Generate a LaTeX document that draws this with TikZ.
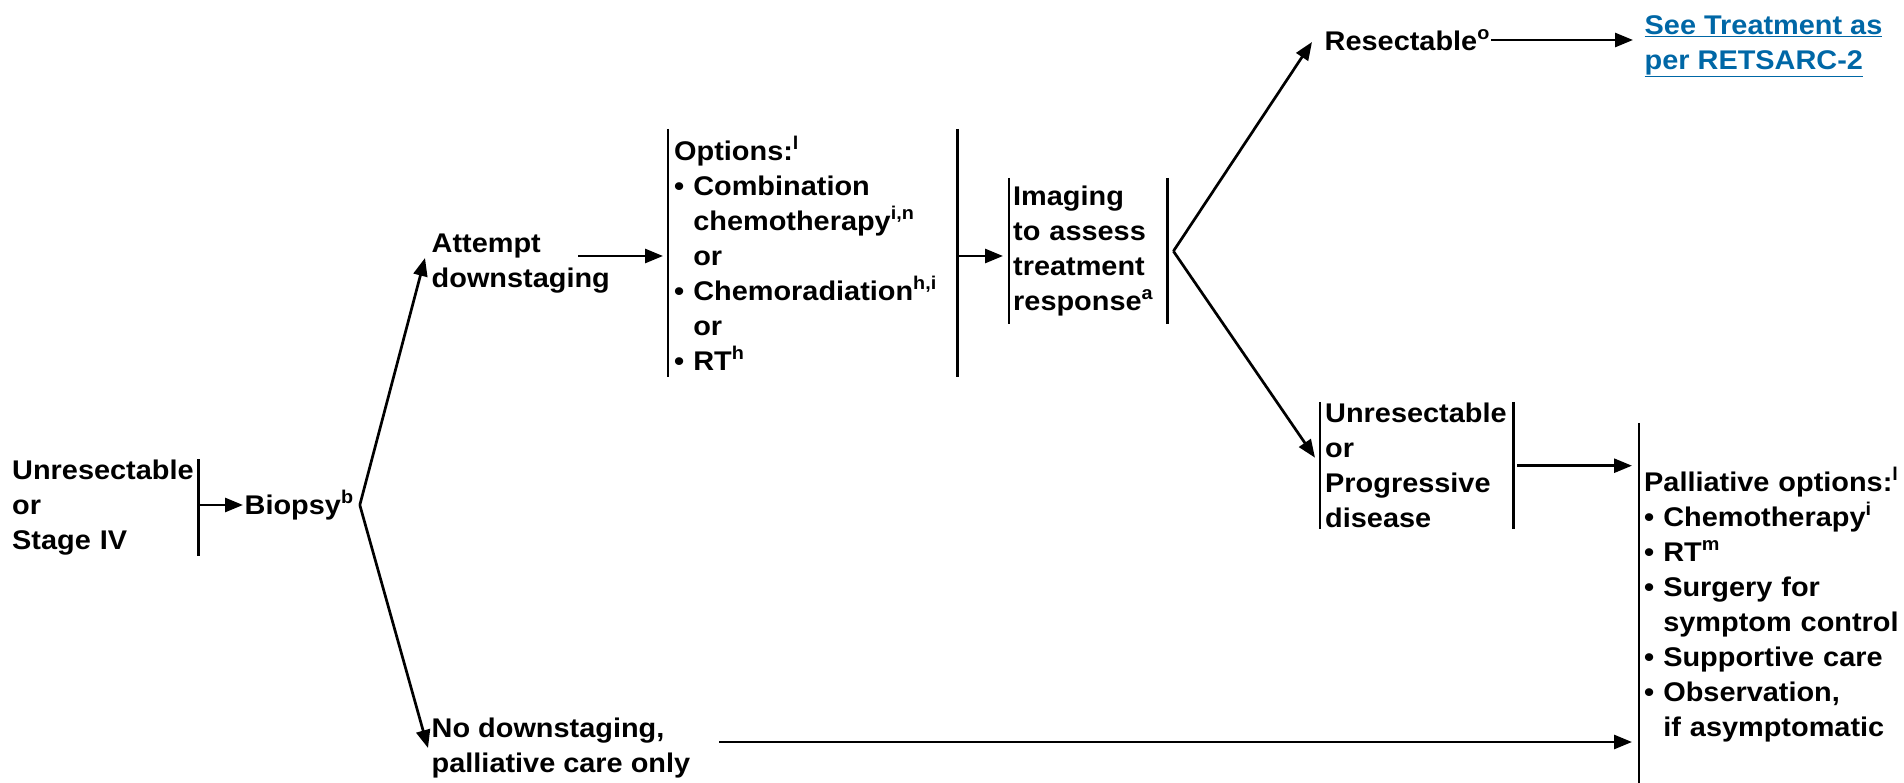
\documentclass[tikz,border=0pt]{standalone}
\usepackage{fontspec}
\setmainfont{Liberation Sans}[FakeStretch=1.07]
\usetikzlibrary{arrows.meta}
\definecolor{linkblue}{RGB}{0,103,166}
\newcommand{\bul}{\textbullet\ }
\newcommand{\ind}{\hphantom{\textbullet\ }}
\newcommand{\fn}[1]{\raisebox{0.4em}{\fontsize{18.5}{18.5}\selectfont #1}}

\begin{document}
\begin{tikzpicture}[x=1pt, y=-1pt,
    every node/.style={font=\fontsize{27}{35}\selectfont\bfseries, align=left, inner sep=1.5pt},
    box/.style={anchor=north west, inner xsep=5pt, inner ysep=0pt},
    bar/.style={line width=2.7pt},
    arr/.style={line width=2.7pt, -{Triangle[length=18pt,width=14pt]}}]

  \useasboundingbox (0,0) rectangle (1904,783);

  % text blocks
  \node[box, text width=181pt, minimum height=97pt] (stage) at (7,459) {Unresectable\\or\\Stage IV};
  \node[anchor=west] (bio) at (243,505) {Biopsy\fn{b}};
  \node[anchor=west] (att) at (430,264) {Attempt\\downstaging};
  \node[anchor=west] (nod) at (430,748) {No downstaging,\\palliative care only};
  \node[box, inner xsep=6pt, text width=277pt, minimum height=248pt] (opt) at (668,129)
    {Options:\fn{l}\\\bul Combination\\\ind chemotherapy\fn{i,n}\\\ind or\\\bul Chemoradiation\fn{h,i}\\\ind or\\\bul RT\fn{h}};
  \node[box, inner xsep=4pt, text width=150pt, minimum height=146pt] (img) at (1009,178)
    {Imaging\\to assess\\treatment\\response\fn{a}};
  \node[anchor=west] (res) at (1323,40) {Resectable\fn{o}};
  \node[anchor=west, text=linkblue] (see) at (1643,46) {\underline{See Treatment as}\\\underline{per RETSARC-2}};
  \node[box, text width=183pt, minimum height=127pt] (unr) at (1320,402)
    {Unresectable\\or\\Progressive\\disease};
  \node[box, text width=262pt, minimum height=362pt] (pal) at (1639,423)
    {Palliative options:\fn{l}\\\bul Chemotherapy\fn{i}\\\bul RT\fn{m}\\\bul Surgery for\\\ind symptom control\\\bul Supportive care\\\bul Observation,\\\ind if asymptomatic};

  % bars
  \draw[bar] (stage.north east) -- (stage.south east);
  \draw[bar] (opt.north west) -- (opt.south west) (opt.north east) -- (opt.south east);
  \draw[bar] (img.north west) -- (img.south west) (img.north east) -- (img.south east);
  \draw[bar] (unr.north west) -- (unr.south west) (unr.north east) -- (unr.south east);
  \draw[bar] (pal.north west) -- (pal.south west);

  % connectors
  \coordinate (attOut) at (578,256);
  \coordinate (nodOut) at (719,742);
  \draw[arr] (stage.east |- bio.west) -- (bio.west);
  \draw[arr] ([xshift=5pt]bio.east) -- ([xshift=-5pt,yshift=6pt]att.west);
  \draw[arr] ([xshift=5pt]bio.east) -- ([xshift=-2pt]nod.west);
  \draw[arr] (attOut) -- ([xshift=-5pt]attOut -| opt.west);
  \draw[arr] (opt.east |- attOut) -- ([xshift=-6pt]attOut -| img.west);
  \draw[arr] ([xshift=6pt]img.east) -- ([xshift=-11pt,yshift=-2pt]res.west);
  \draw[arr] ([xshift=6pt]img.east) -- ([xshift=-5pt,yshift=8pt]unr.west);
  \draw[arr] (res.east) -- ([xshift=-10pt]see.west |- res.east);
  \draw[arr] ([xshift=4pt]unr.east) -- ([xshift=-7pt]unr.east -| pal.west);
  \draw[arr] (nodOut) -- ([xshift=-7pt]nodOut -| pal.west);

\end{tikzpicture}
\end{document}
